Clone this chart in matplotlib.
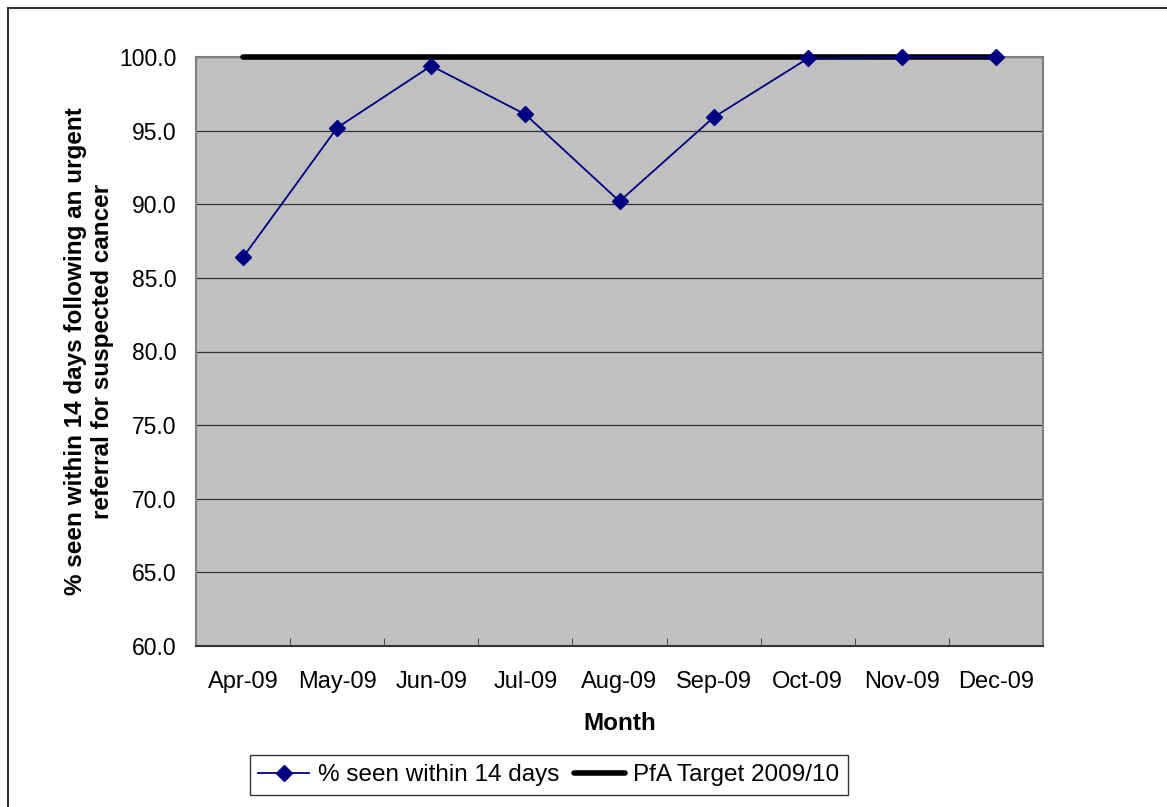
import matplotlib
matplotlib.use("Agg")
import matplotlib.pyplot as plt
from matplotlib.patches import Rectangle

plt.rcParams["font.family"] = ["Liberation Sans", "DejaVu Sans"]

months = ["Apr-09", "May-09", "Jun-09", "Jul-09", "Aug-09", "Sep-09", "Oct-09", "Nov-09", "Dec-09"]
seen_pct = [86.4, 95.2, 99.4, 96.1, 90.2, 95.9, 99.9, 100.0, 100.0]
target = [100.0] * len(months)
y_ticks = [60, 65, 70, 75, 80, 85, 90, 95, 100]

fig = plt.figure(figsize=(11.67, 8.07), dpi=100)
ax = fig.add_axes([196 / 1167, 1 - 646 / 807, 847 / 1167, 589 / 807])
ax.set_facecolor("#C0C0C0")

x = list(range(len(months)))
ax.plot(x, target, color="black", lw=4, solid_capstyle="round", zorder=3,
        clip_on=False, label="PfA Target 2009/10")
ax.plot(x, seen_pct, color="#000080", lw=1.3, marker="D", ms=8, zorder=4,
        clip_on=False, label="% seen within 14 days")

ax.set_xlim(-0.5, len(months) - 0.5)
ax.set_ylim(60, 100)
ax.set_yticks(y_ticks)
ax.set_yticklabels([f"{v:.1f}" for v in y_ticks], fontsize=16.5)
ax.yaxis.grid(True, color="#333333", lw=0.9)
ax.set_axisbelow(True)
ax.tick_params(axis="y", length=0, pad=14)

ax.set_xticks(x)
ax.set_xticklabels(months, fontsize=17)
ax.set_xticks([i + 0.5 for i in range(len(months) - 1)], minor=True)
ax.tick_params(axis="x", which="major", length=0, pad=18)
ax.tick_params(axis="x", which="minor", length=6, direction="in", color="#333333")

for s in ["top", "right", "left"]:
    ax.spines[s].set_color("#808080")
    ax.spines[s].set_linewidth(1.5)
ax.spines["bottom"].set_color("#333333")
ax.spines["bottom"].set_linewidth(1.5)

ax.set_xlabel("Month", fontsize=17.5, fontweight="bold", labelpad=14)
ax.set_ylabel("% seen within 14 days following an urgent\nreferral for suspected cancer",
              fontsize=17.5, fontweight="bold", labelpad=4)

handles, labels = ax.get_legend_handles_labels()
leg = fig.legend(handles[::-1], labels[::-1], loc="center", ncol=2,
                 bbox_to_anchor=(549 / 1167, 1 - 775 / 807), fontsize=17.5,
                 frameon=True, fancybox=False, edgecolor="black",
                 handlelength=2.1, columnspacing=0.6, handletextpad=0.35,
                 borderpad=0.35)
leg.get_frame().set_linewidth(1.0)

fig.patches.append(Rectangle((8 / 1167, -0.05), 1.1, 1 - 8 / 807 + 0.05,
                             transform=fig.transFigure, fill=False,
                             edgecolor="#333333", lw=1.5))

fig.savefig("out.png", dpi=100)
